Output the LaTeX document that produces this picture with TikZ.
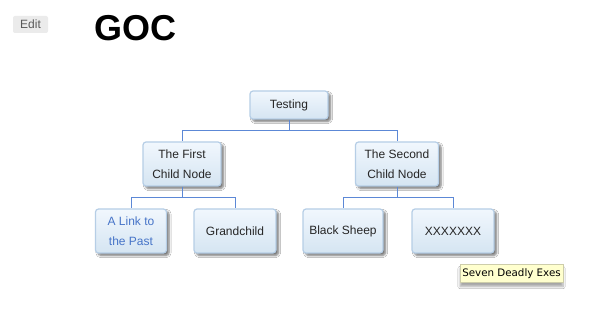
\documentclass[tikz,border=0pt]{standalone}
\usepackage{fontspec}
\setmainfont{Liberation Sans}
\newfontfamily\tipfont{DejaVu Sans}
\usetikzlibrary{shadows.blur}
\definecolor{boxTop}{RGB}{241,247,253}
\definecolor{boxBot}{RGB}{213,229,242}
\definecolor{boxLine}{RGB}{182,206,230}
\definecolor{connCol}{RGB}{92,136,214}
\definecolor{linkCol}{RGB}{70,116,200}
\definecolor{tipFill}{RGB}{255,255,206}
\definecolor{tipLine}{RGB}{205,205,170}

\begin{document}
\begin{tikzpicture}[
    x=1pt, y=-1pt,
    every node/.style={align=center, inner sep=0pt},
    box/.style={draw=boxLine, line width=1.2pt, rounded corners=3pt, top color=boxTop, bottom color=boxBot,
        minimum height=44pt, font=\fontsize{12}{19.5}\selectfont, text=black!85,
        blur shadow={shadow xshift=2.5pt, shadow yshift=-2.5pt, shadow blur steps=6, shadow opacity=55}},
    conn/.style={draw=connCol, line width=0.9pt}
]
    \useasboundingbox[fill=white] (0,0) rectangle (595,318);

    % header
    \node[fill=black!8, rounded corners=2pt, minimum width=35pt, minimum height=17pt,
        font=\fontsize{12}{14}\selectfont, text=black!65] (edit) at (30.5,24.5) {Edit};
    \node[anchor=base west, font=\fontsize{36}{40}\selectfont\bfseries] (title) at (94,41) {GOC};

    % tree
    \node[box, minimum width=78pt, minimum height=28pt] (root) at (289,105) {Testing};
    \node[box, minimum width=78pt] (first) at (182,164) {The First\\Child Node};
    \node[box, minimum width=83pt] (second) at (397,164) {The Second\\Child Node};
    \node[box, minimum width=71pt, text=linkCol] (link) at (131,231) {A Link to\\the Past};
    \node[box, minimum width=82pt] (grand) at (235,231) {Grandchild};
    \node[box, minimum width=80pt] (sheep) at (343,231) {Black Sheep};
    \node[box, minimum width=82pt] (exes) at (453,231) {XXXXXXX};

    \coordinate (j0) at (289,130);
    \coordinate (j1) at (182,197);
    \coordinate (j2) at (397,197);

    \draw[conn] (root.south) -- (j0) -| (first.north);
    \draw[conn] (j0) -| (second.north);
    \draw[conn] (first.south) -- (j1) -| (link.north);
    \draw[conn] (j1) -| (grand.north);
    \draw[conn] (second.south) -- (j2) -| (sheep.north);
    \draw[conn] (j2) -| (exes.north);

    % tooltip
    \node[draw=tipLine, fill=tipFill, line width=0.5pt, minimum width=103pt, minimum height=18pt,
        font=\tipfont\fontsize{10.3}{12}\selectfont,
        blur shadow={shadow xshift=0pt, shadow yshift=-4pt, shadow blur steps=8, shadow opacity=35}] (tip) at (511.5,273.5) {Seven Deadly Exes};
\end{tikzpicture}
\end{document}
